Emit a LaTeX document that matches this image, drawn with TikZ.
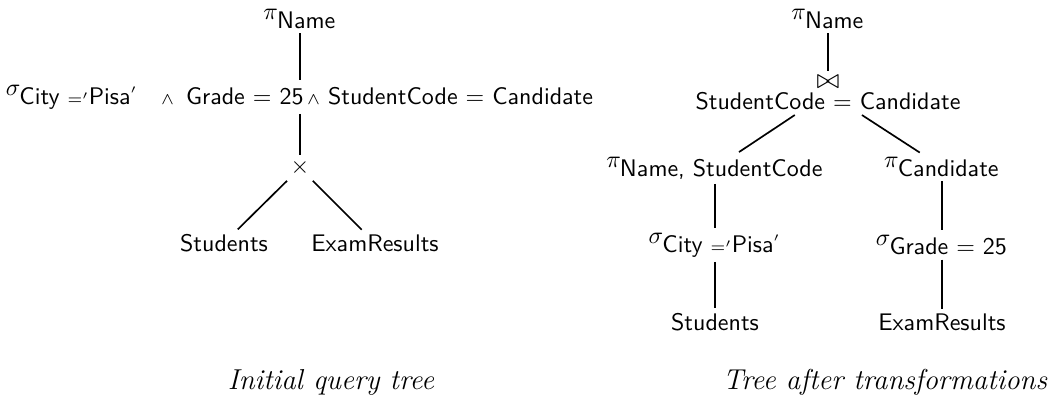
\documentclass[tikz,border=0pt]{standalone}
\usepackage{tikz}
\usepackage{graphicx}
\newcommand{\sfm}[1]{\mbox{\sffamily #1}}
\newcommand{\joinsym}{\scalebox{1.15}{$\bowtie$}}
\begin{document}
\begin{tikzpicture}[x=0.41667pt,y=-0.41667pt,
  op/.style={inner sep=2pt, outer sep=0pt},
  edge/.style={line width=0.7pt},
  caption/.style={anchor=base, inner sep=0pt, font=\fontsize{12}{14}\selectfont\itshape}]
\useasboundingbox (0,0) rectangle (1053,403);

% initial query tree
\node[op] (pL) at (300,19) {$\pi_{\sfm{Name}}$};
\node[op] (sL) at (300,97) {$\sigma_{\sfm{City }='\sfm{Pisa}'\hskip 10pt\wedge\hskip 5pt\sfm{Grade = 25}\hskip 1.5pt\wedge\sfm{\ StudentCode = Candidate}}$};
\node[op] (xL) at (300,168) {$\times$};
\node[op] (stL) at (224,243) {\sffamily Students};
\node[op] (erL) at (375,243) {\sffamily ExamResults};
\draw[edge] (pL) -- (pL |- sL.north);
\draw[edge] (sL.south -| xL) -- (xL);
\draw[edge] (xL) -- (stL);
\draw[edge] (xL) -- (erL);
\node[caption] (capL) at (331,390) {Initial query tree};

% tree after transformations
\node[op] (pR) at (828,19) {$\pi_{\sfm{Name}}$};
\node[op, align=center, font=\fontsize{10}{12}\selectfont] (jR) at (828,93)
  {\joinsym\\[-3.2pt]\sffamily StudentCode $=$ Candidate};
\node[op] (pNS) at (715,168) {$\pi_{\sfm{Name, StudentCode}}$};
\node[op] (pC) at (942,167) {$\pi_{\sfm{Candidate}}$};
\node[op] (sC) at (715,245) {$\sigma_{\sfm{City }='\sfm{Pisa}'}$};
\node[op] (sG) at (942,245) {$\sigma_{\sfm{Grade = 25}}$};
\node[op] (stR) at (715,322) {\sffamily Students};
\node[op] (erR) at (942,322) {\sffamily ExamResults};
\draw[edge] (pR) -- (jR);
\draw[edge] (jR) -- (pNS);
\draw[edge] (jR) -- (pC);
\draw[edge] (pNS) -- (sC);
\draw[edge] (sC) -- (stR);
\draw[edge] (pC) -- (sG);
\draw[edge] (sG) -- (erR);
\node[caption] (capR) at (885,390) {Tree after transformations};
\end{tikzpicture}
\end{document}
